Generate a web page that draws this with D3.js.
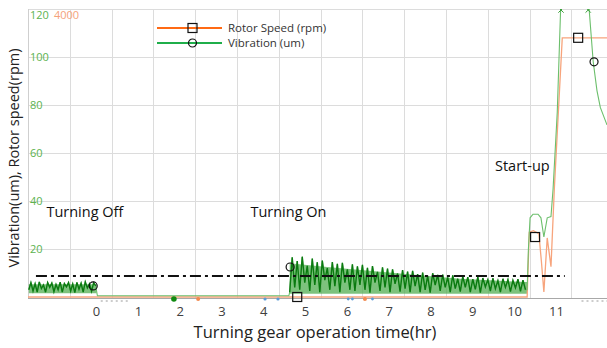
<!DOCTYPE html>
<html>
<head>
<meta charset="utf-8">
<script src="https://cdn.jsdelivr.net/npm/d3@7"></script>
<style>
  body { margin: 0; background: #fff; }
  svg { display: block; }
</style>
</head>
<body>
<svg id="chart"></svg>
<script>
// ---- data (hours on x, um / rpm on y) ----
const xTickLabels = [0, 1, 2, 3, 4, 5, 6, 7, 8, 9, 10, 11];
const vibTickLabels = [20, 40, 60, 80, 100, 120];
const rpmTopLabel = 4000;

// turning off: noisy vibration before hour 0
const offNoiseStart = -1.62, offNoiseStep = 0.05;
const offNoise = [3, 6, 2.5, 5.5, 2, 6.3, 3.5, 5, 2, 6, 4, 5.8, 2.2, 5.2, 3, 6.2, 2, 5.6, 4.2, 6,
  2.5, 5.4, 1.8, 6.1, 3.2, 5.7, 2, 6.3, 3.8, 5.5, 2.4, 5.9, 4.6];

// quiet period (no turning gear)
const quietTimes = [0.02, 4.6];
const quietVib = [0.5, 0.5];

// turning on: noisy vibration, slowly decaying
const onNoiseStart = 4.62, onNoiseStep = 0.06;
const onNoise = [2, 16.5, 4, 15, 3, 16.8, 6, 13, 2.5, 16,
  5, 14.5, 2, 15.2, 7, 12, 3, 14.6, 4.5, 13.8,
  2, 14.2, 6, 11.5, 3, 13.6, 2.5, 12.8, 5, 13.4,
  3, 12.2, 1.8, 12.9, 6, 10.5, 2.5, 12.4, 4, 11.8,
  2, 11.5, 5.5, 9.8, 2.2, 11.2, 3.5, 10.6, 2, 10.9,
  4.5, 9.5, 2, 10.2, 3, 8.8, 1.8, 9.9, 5, 9.2,
  2.5, 9.3, 4, 8.2, 2, 9, 3.5, 7.6, 2.2, 8.6,
  4, 8.3, 2, 7.4, 3.2, 8.4, 1.8, 7.9, 4.2, 7.2,
  2.5, 7.8, 3.5, 6.8, 2, 7.6, 4, 7.2, 2.2, 6.9,
  3.8, 7.4, 2.4, 7.0, 3];

// noise band envelopes (the dense core of the noise)
const offBandTimes = [-1.62, 0];
const offBandUpper = [5.3, 5.3];
const offBandLower = [1.6, 1.6];
const onBandTimes = [4.62, 4.67, 5.58, 7.26, 8.7, 10.3];
const onBandUpper = [14, 14, 12.4, 9.8, 7.6, 6.2];
const onBandLower = [1.4, 1.4, 1.4, 1.4, 1.4, 1.4];

// start-up vibration
const startTimes = [10.30, 10.33, 10.37, 10.44, 10.56, 10.63, 10.70, 10.78, 10.87, 10.92, 11.02, 11.11, 11.76, 11.88, 11.97, 12.05, 12.21];
const startVib = [3, 20, 33, 34.5, 34.5, 33, 25, 33, 33.5, 45, 77, 125, 125, 98, 86, 79, 71.7];

// rotor speed
const rpmTimes = [-1.64, 10.30, 10.35, 10.45, 10.58, 10.64, 10.70, 10.78, 10.83, 10.87, 10.95, 11.14, 12.25];
const rpmValues = [0, 0, 900, 920, 880, 500, 70, 820, 600, 420, 1500, 3600, 3600];

// marker points
const vibMarkers = [[-0.08, 4.6], [4.63, 12.5], [11.9, 98]];
const rpmMarkers = [[4.8, 0], [10.49, 833], [11.52, 3600]];
const clipMarkers = [11.11, 11.76];

// reference level (dash-dot)
const limitLevel = 8.75;
const limitFrom = -1.45, limitTo = 11.2;

// stray event dots near the baseline
const eventDots = [
  { t: 1.85, color: "#118a11", r: 2.8 },
  { t: 2.43, color: "#f2894f", r: 2 },
  { t: 4.03, color: "#5b9bd5", r: 1.6 },
  { t: 4.34, color: "#5b9bd5", r: 1.6 },
  { t: 6.02, color: "#5b9bd5", r: 1.4 },
  { t: 6.12, color: "#5b9bd5", r: 1.4 },
  { t: 6.42, color: "#f2894f", r: 2 },
  { t: 6.6, color: "#5b9bd5", r: 1.4 }
];

const annotations = [
  { text: "Turning Off", t: -1.2, v: 33.5 },
  { text: "Turning On", t: 3.68, v: 33.3 },
  { text: "Start-up", t: 9.53, v: 52.5 }
];

// ---- layout ----
const width = 607, height = 348;
const plot = { left: 28, right: 607, top: 9, bottom: 297 };

const svg = d3.select("#chart")
  .attr("width", width)
  .attr("height", height)
  .attr("viewBox", [0, 0, width, height])
  .style("font-family", "'Open Sans', 'Noto Sans', sans-serif");

const x = d3.scaleLinear().domain([-1.64, 12.21]).range([plot.left, plot.right]);
const y = d3.scaleLinear().domain([0, 120]).range([plot.bottom, plot.top]);
const yRpm = d3.scaleLinear().domain([0, 4000]).range([plot.bottom, plot.top]);

// grid (the vertical grid is offset from the hour ticks)
const gridHours = d3.range(-0.64, 12.3, 1);
svg.append("g")
  .attr("stroke", "#dcdcdc")
  .attr("stroke-width", 1)
  .call(g => g.selectAll(".v").data(gridHours).join("line")
    .attr("x1", d => Math.round(x(d)) + 0.5).attr("x2", d => Math.round(x(d)) + 0.5)
    .attr("y1", plot.top).attr("y2", plot.bottom + 1))
  .call(g => g.selectAll(".h").data(vibTickLabels).join("line")
    .attr("x1", plot.left).attr("x2", plot.right)
    .attr("y1", d => Math.round(y(d)) + 0.5).attr("y2", d => Math.round(y(d)) + 0.5));

// left border + bottom axis line
svg.append("line")
  .attr("x1", plot.left + 0.5).attr("x2", plot.left + 0.5)
  .attr("y1", plot.top).attr("y2", plot.bottom + 1)
  .attr("stroke", "#cfcfcf");
svg.append("line")
  .attr("x1", plot.left).attr("x2", plot.right)
  .attr("y1", plot.bottom + 1.5).attr("y2", plot.bottom + 1.5)
  .attr("stroke", "#a8a8a8");

// faint remnants of old tick labels under the axis
svg.append("g")
  .attr("stroke", "#9a9a9a")
  .attr("stroke-dasharray", "2,3")
  .selectAll("line")
  .data([[0.1, 0.8], [11.6, 12.21]])
  .join("line")
  .attr("x1", d => x(d[0])).attr("x2", d => x(d[1]))
  .attr("y1", plot.bottom + 4).attr("y2", plot.bottom + 4);

// left labels (inside plot)
svg.append("g")
  .attr("fill", "#5cb34f")
  .attr("font-size", 11)
  .selectAll("text")
  .data(vibTickLabels)
  .join("text")
  .attr("x", plot.left + 2)
  .attr("y", d => Math.max(y(d), plot.top + 6))
  .attr("dy", "0.35em")
  .text(d => d);
svg.append("text")
  .attr("x", plot.left + 26)
  .attr("y", plot.top + 6)
  .attr("dy", "0.35em")
  .attr("font-size", 11)
  .attr("fill", "#f5a27a")
  .text(rpmTopLabel);

// x tick labels
svg.append("g")
  .attr("fill", "#404040")
  .attr("font-size", 13)
  .attr("text-anchor", "middle")
  .selectAll("text")
  .data(xTickLabels)
  .join("text")
  .attr("x", d => x(d))
  .attr("y", 316)
  .text(d => d);

// axis titles
svg.append("text")
  .attr("x", 315).attr("y", 338)
  .attr("text-anchor", "middle")
  .attr("font-size", 16.5)
  .attr("fill", "#222")
  .text("Turning gear operation time(hr)");
svg.append("text")
  .attr("transform", "translate(19,158) rotate(-90)")
  .attr("text-anchor", "middle")
  .attr("font-size", 14.5)
  .attr("fill", "#222")
  .text("Vibration(um), Rotor speed(rpm)");

// clip for data
svg.append("clipPath").attr("id", "clip")
  .append("rect").attr("x", plot.left).attr("y", plot.top)
  .attr("width", plot.right - plot.left).attr("height", plot.bottom - plot.top + 3);
const data = svg.append("g").attr("clip-path", "url(#clip)");

const line = d3.line().x(d => x(d[0])).y(d => y(d[1]));
const area = d3.area().x(d => x(d[0])).y0(d => y(d[2])).y1(d => y(d[1]));

// noise bands
[[offBandTimes, offBandUpper, offBandLower], [onBandTimes, onBandUpper, onBandLower]].forEach(([t, u, l]) => {
  data.append("path")
    .datum(t.map((d, i) => [d, u[i], l[i]]))
    .attr("fill", "#52ad52")
    .attr("fill-opacity", 0.75)
    .attr("d", area);
});

// rotor speed
data.append("path")
  .datum(rpmTimes.map((t, i) => [t, rpmValues[i]]))
  .attr("fill", "none")
  .attr("stroke", "#f7a47c")
  .attr("stroke-width", 1.3)
  .attr("d", d3.line().x(d => x(d[0])).y(d => yRpm(d[1])));

// vibration
const offPts = offNoise.map((v, i) => [offNoiseStart + i * offNoiseStep, v]);
const quietPts = quietTimes.map((t, i) => [t, quietVib[i]]);
const onPts = onNoise.map((v, i) => [onNoiseStart + i * onNoiseStep, v]);
const startPts = startTimes.map((t, i) => [t, startVib[i]]);

data.append("path")
  .datum(offPts.concat(quietPts, onPts, startPts))
  .attr("fill", "none")
  .attr("stroke", "#6cbf6c")
  .attr("stroke-width", 1.1)
  .attr("d", line);
[offPts, onPts].forEach(pts => {
  data.append("path")
    .datum(pts)
    .attr("fill", "none")
    .attr("stroke", "#0a7a10")
    .attr("stroke-width", 1.4)
    .attr("d", line);
});

// clipped-peak markers
data.append("g")
  .selectAll("path")
  .data(clipMarkers)
  .join("path")
  .attr("transform", d => `translate(${x(d)},${plot.top + 1})`)
  .attr("d", d3.symbol().type(d3.symbolTimes || d3.symbolCross).size(20))
  .attr("fill", "none")
  .attr("stroke", "#3aa03a");

// event dots
svg.append("g")
  .selectAll("circle")
  .data(eventDots)
  .join("circle")
  .attr("cx", d => x(d.t))
  .attr("cy", plot.bottom + 2)
  .attr("r", d => d.r)
  .attr("fill", d => d.color);

// dash-dot reference
svg.append("line")
  .attr("x1", x(limitFrom)).attr("x2", x(limitTo))
  .attr("y1", y(limitLevel)).attr("y2", y(limitLevel))
  .attr("stroke", "#111")
  .attr("stroke-width", 1.8)
  .attr("stroke-dasharray", "11,4,3,4");

// markers
svg.append("g")
  .selectAll("circle")
  .data(vibMarkers)
  .join("circle")
  .attr("cx", d => x(d[0])).attr("cy", d => y(d[1]))
  .attr("r", 4)
  .attr("fill", "none")
  .attr("stroke", "#111")
  .attr("stroke-width", 1.2);
svg.append("g")
  .selectAll("rect")
  .data(rpmMarkers)
  .join("rect")
  .attr("x", d => x(d[0]) - 4.5).attr("y", d => yRpm(d[1]) - 4.5)
  .attr("width", 9).attr("height", 9)
  .attr("fill", "none")
  .attr("stroke", "#111")
  .attr("stroke-width", 1.2);

// annotations
svg.append("g")
  .attr("font-size", 14.5)
  .attr("fill", "#111")
  .selectAll("text")
  .data(annotations)
  .join("text")
  .attr("x", d => x(d.t)).attr("y", d => y(d.v))
  .text(d => d.text);

// legend
const legend = svg.append("g").attr("transform", "translate(157,28)");
const legendItems = [
  { label: "Rotor Speed (rpm)", color: "#ff6a14", shape: "square" },
  { label: "Vibration (um)", color: "#1fae4a", shape: "circle" }
];
legendItems.forEach((item, i) => {
  const g = legend.append("g").attr("transform", `translate(0,${i * 15})`);
  g.append("line").attr("x1", 0).attr("x2", 65).attr("stroke", item.color).attr("stroke-width", 2);
  if (item.shape === "square") {
    g.append("rect").attr("x", 31).attr("y", -4.5).attr("width", 9).attr("height", 9)
      .attr("fill", "none").attr("stroke", "#111").attr("stroke-width", 1.2);
  } else {
    g.append("circle").attr("cx", 35.5).attr("r", 4)
      .attr("fill", "none").attr("stroke", "#111").attr("stroke-width", 1.2);
  }
  g.append("text").attr("x", 71).attr("y", 4)
    .attr("font-size", 11.5).attr("fill", "#333").text(item.label);
});
</script>
</body>
</html>
